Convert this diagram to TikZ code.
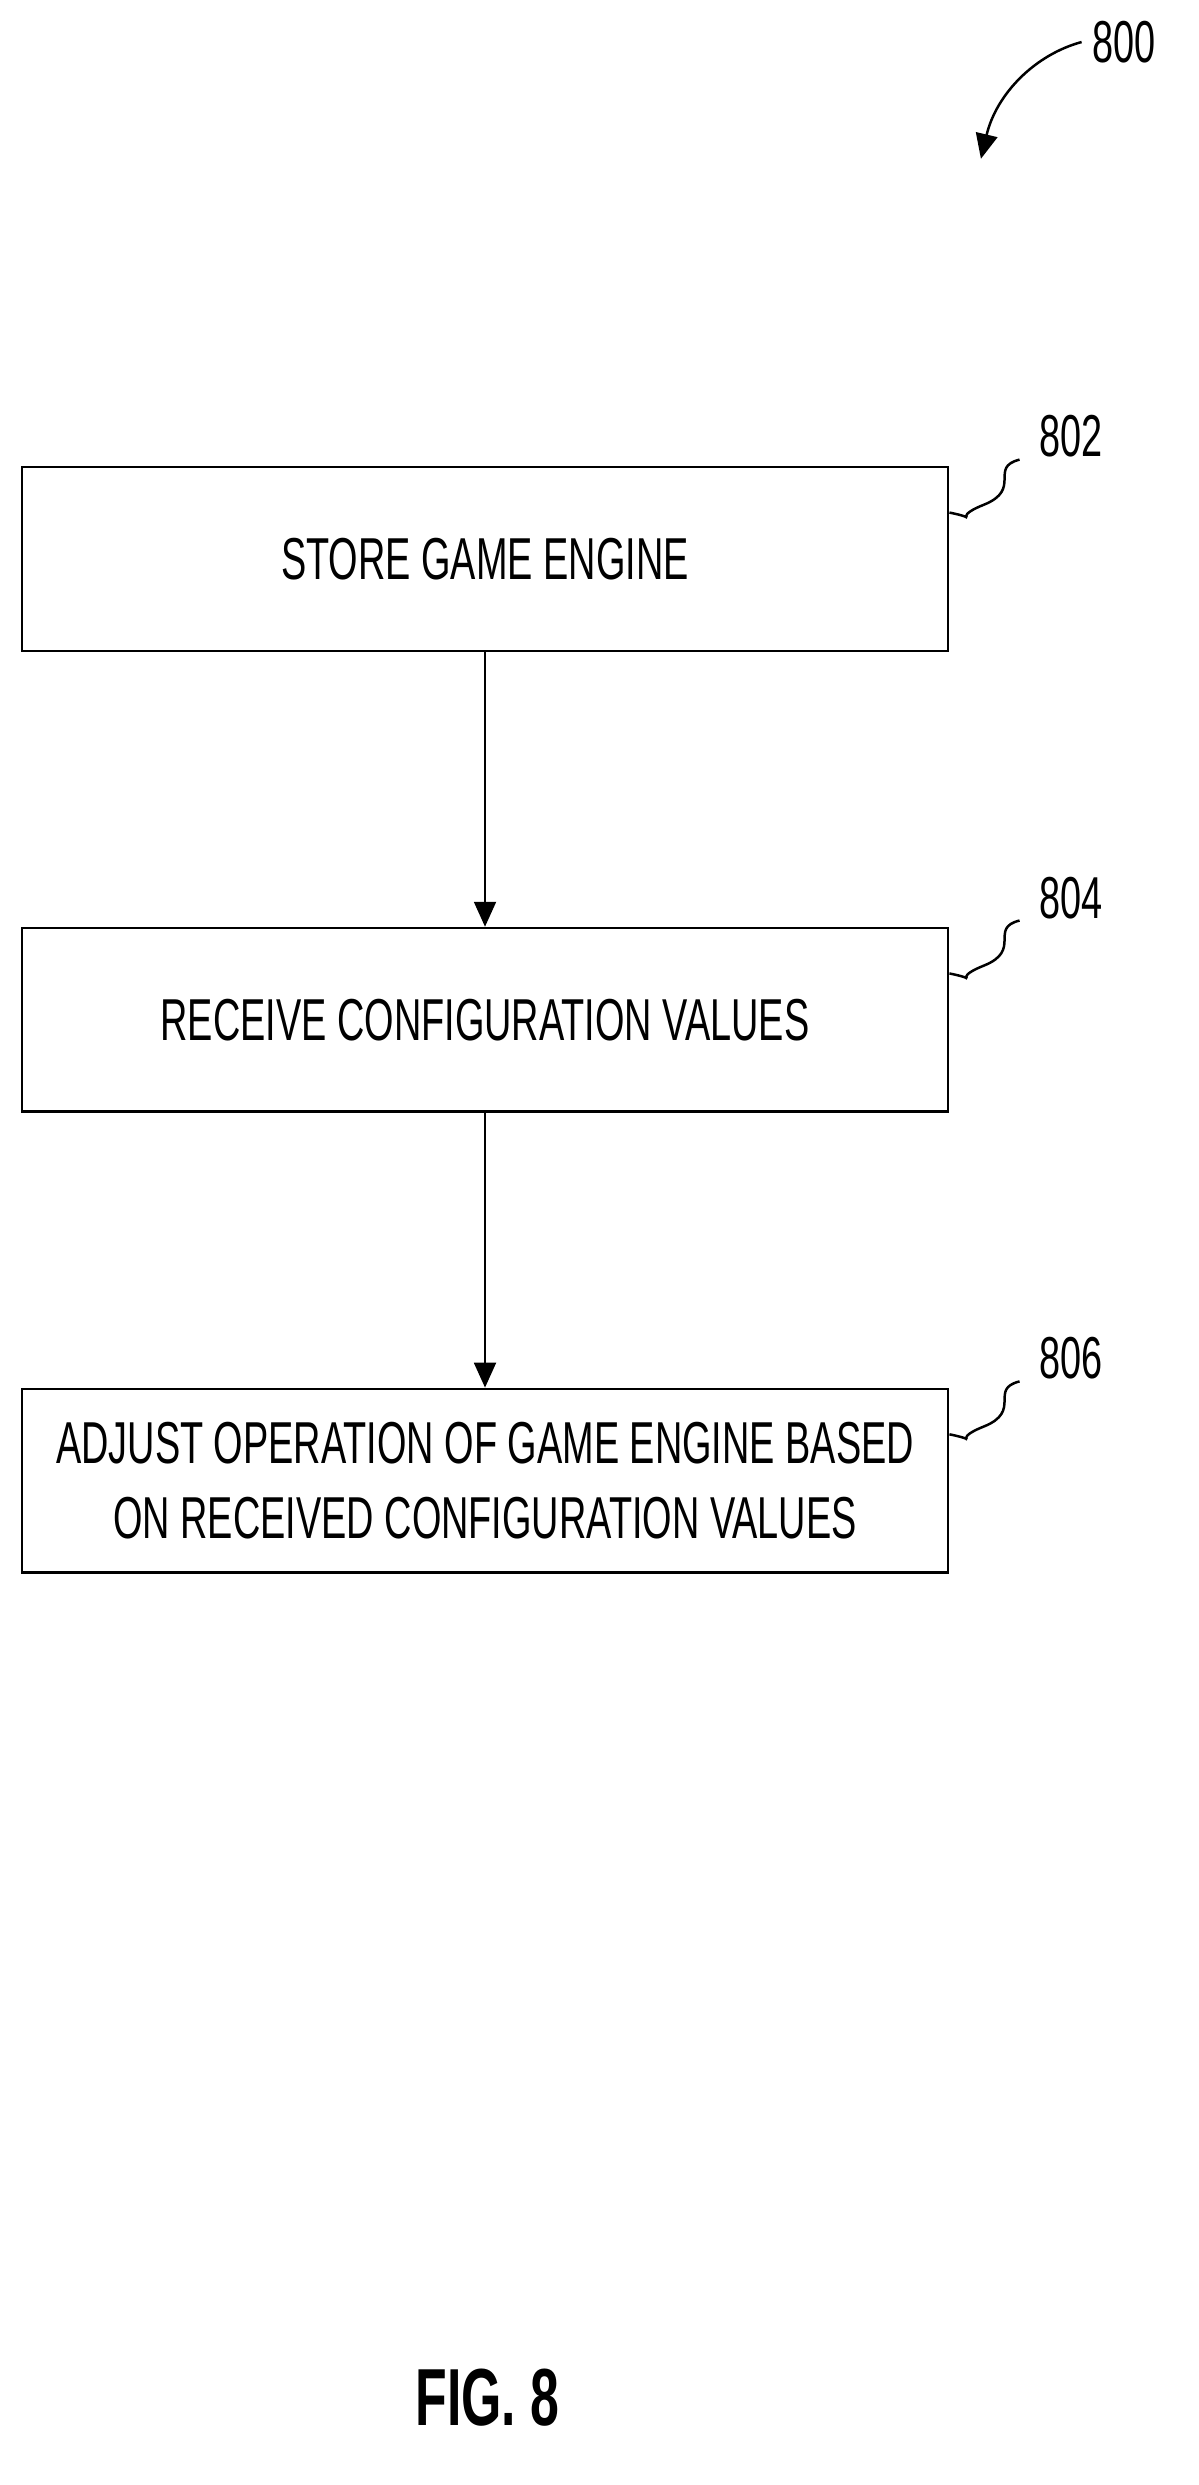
\documentclass[tikz,border=0pt]{standalone}
\usepackage{fontspec}
\setmainfont{Liberation Sans}[FakeStretch=0.64]
\usetikzlibrary{arrows.meta,positioning}
\tikzset{
  box/.style={rectangle,draw,thick,minimum width=595*0.5pt,minimum height=118*0.5pt,align=center,font=\fontsize{19}{24}\selectfont},
  ref/.style={font=\fontsize{19}{24}\selectfont},
  flow/.style={thick,-{Triangle[length=8pt,width=7pt]}}
}
\begin{document}
\begin{tikzpicture}[x=0.5pt,y=-0.5pt]
	\useasboundingbox (0,0) rectangle (770,1596);
	\node[box] (store) at (311.5,359) {STORE GAME ENGINE};
	\node[box] (receive) at (311.5,655) {RECEIVE CONFIGURATION VALUES};
	\node[box] (adjust) at (311.5,951) {ADJUST OPERATION OF GAME ENGINE BASED\\ON RECEIVED CONFIGURATION VALUES};
	\draw[flow] (store) -- (receive);
	\draw[flow] (receive) -- (adjust);
	% reference numerals
	\node[ref] (n802) at (688,280) {802};
	\node[ref] (n804) at (688,577) {804};
	\node[ref] (n806) at (688,872) {806};
	\foreach \b in {store,receive,adjust}
		\draw[thick] (\b.north east) ++(0,30) .. controls +(25,5) and +(-25,10) .. +(22,-5) .. controls +(25,-10) and +(-20,5) .. +(45,-34);
	\node[ref] (n800) at (722,27) {800};
	\coordinate (tip800) at (630,102);
	\draw[flow] (n800.west) .. controls (665,35) and (640,60) .. (tip800);
	\node[font=\bfseries\fontsize{26}{30}\selectfont] (fig) at (313,1540) {FIG. 8};
\end{tikzpicture}
\end{document}
